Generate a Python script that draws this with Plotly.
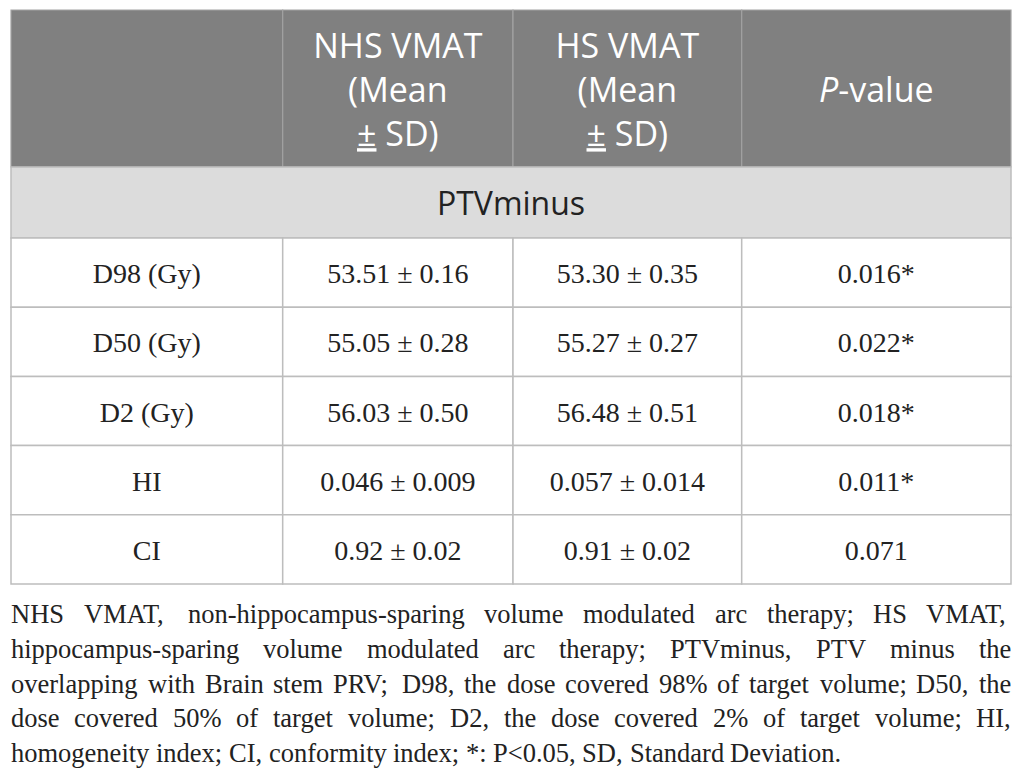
import plotly.graph_objects as go

# table content
col_headers = ["", "NHS VMAT<br>(Mean<br><u>±</u> SD)", "HS VMAT<br>(Mean<br><u>±</u> SD)", "<i>P</i>-value"]
group_label = "PTVminus"
parameters = ["D98 (Gy)", "D50 (Gy)", "D2 (Gy)", "HI", "CI"]
nhs_vmat = ["53.51 ± 0.16", "55.05 ± 0.28", "56.03 ± 0.50", "0.046 ± 0.009", "0.92 ± 0.02"]
hs_vmat = ["53.30 ± 0.35", "55.27 ± 0.27", "56.48 ± 0.51", "0.057 ± 0.014", "0.91 ± 0.02"]
p_values = ["0.016*", "0.022*", "0.018*", "0.011*", "0.071"]

footnote_lines = [
    "NHS VMAT, non-hippocampus-sparing volume modulated arc therapy; HS VMAT,",
    "hippocampus-sparing volume modulated arc therapy; PTVminus, PTV minus the",
    "overlapping with Brain stem PRV; D98, the dose covered 98% of target volume; D50, the",
    "dose covered 50% of target volume; D2, the dose covered 2% of target volume; HI,",
    "homogeneity index; CI, conformity index; *: P<0.05, SD, Standard Deviation.",
]

# page is drawn with an 8px body margin, so axes are set up in page pixels
W, H, PAGE_PAD = 1026, 779, 8
LEFT, RIGHT = 11, 1011
col_px = [271.7, 230.3, 228.7, 269.3]
header_top, header_bot, group_bot = 10, 167, 238
row_h = 69.2

head_fill, group_fill = "#808080", "#dcdcdc"
line_col, head_line = "#bdbdbd", "#a2a2a2"
text_col = "#222222"
sans = "Open Sans"
serif = "Liberation Serif"

col_edges = [LEFT]
for w in col_px:
    col_edges.append(col_edges[-1] + w)
col_mid = [(a + b) / 2 for a, b in zip(col_edges[:-1], col_edges[1:])]
row_edges = [group_bot + i * row_h for i in range(len(parameters) + 1)]
row_mid = [(a + b) / 2 for a, b in zip(row_edges[:-1], row_edges[1:])]

fig = go.Figure()

# cell backgrounds and borders
for a, b in zip(col_edges[:-1], col_edges[1:]):
    fig.add_shape(type="rect", x0=a, x1=b, y0=header_top, y1=header_bot, layer="below",
                  fillcolor=head_fill, line=dict(color=head_line, width=1.2))
fig.add_shape(type="rect", x0=LEFT, x1=RIGHT, y0=header_bot, y1=group_bot, layer="below",
              fillcolor=group_fill, line=dict(color=line_col, width=1.5))
for a, b in zip(col_edges[:-1], col_edges[1:]):
    for r0, r1 in zip(row_edges[:-1], row_edges[1:]):
        fig.add_shape(type="rect", x0=a, x1=b, y0=r0, y1=r1, layer="below",
                      fillcolor="white", line=dict(color=line_col, width=1.5))

# header text
fig.add_trace(go.Scatter(
    x=col_mid, y=[(header_top + header_bot) / 2 + 5] * 4, text=col_headers,
    mode="text", textposition="middle center", hoverinfo="skip",
    textfont=dict(family=sans, size=34, color="white")))

fig.add_trace(go.Scatter(
    x=[(LEFT + RIGHT) / 2], y=[(header_bot + group_bot) / 2 + 4.5], text=[group_label],
    mode="text", textposition="middle center", hoverinfo="skip",
    textfont=dict(family=sans, size=32, color=text_col)))

# body text, one trace per column
for xm, col in zip(col_mid, [parameters, nhs_vmat, hs_vmat, p_values]):
    fig.add_trace(go.Scatter(
        x=[xm] * len(col), y=[m + 3.5 for m in row_mid], text=col,
        mode="text", textposition="middle center", hoverinfo="skip",
        textfont=dict(family=serif, size=28, color=text_col)))

# justified footnote, word widths from Times metrics (Liberation Serif is metric compatible)
widths = {" ": 250, ",": 250, ".": 250, ";": 278, ":": 278, "-": 333, "%": 833,
          "*": 500, "<": 564, "(": 333, ")": 333}
widths.update({d: 500 for d in "0123456789"})
widths.update(dict(zip("ABCDEFGHIJKLMNOPQRSTUVWXYZ",
                       [722, 667, 667, 722, 611, 556, 722, 722, 333, 389, 722, 611, 889,
                        722, 722, 556, 722, 667, 556, 611, 722, 722, 944, 722, 722, 611])))
widths.update(dict(zip("abcdefghijklmnopqrstuvwxyz",
                       [444, 500, 444, 500, 444, 333, 500, 500, 278, 278, 500, 278, 778,
                        500, 500, 500, 500, 333, 389, 278, 500, 500, 722, 500, 500, 444])))

fs = 26.5
first_base, line_gap = 623, 34.8


def word_w(w):
    return sum(widths.get(ch, 500) for ch in w) * fs / 1000


for i, line in enumerate(footnote_lines):
    words = line.split(" ")
    if i == len(footnote_lines) - 1:
        gap = widths[" "] * fs / 1000
    else:
        gap = (RIGHT - LEFT - sum(word_w(w) for w in words)) / (len(words) - 1)
    x = LEFT
    yc = first_base + i * line_gap - 0.3375 * fs
    for w in words:
        fig.add_annotation(text=w, x=x, y=yc, xref="x", yref="y",
                           xanchor="left", yanchor="middle", showarrow=False,
                           borderpad=0, borderwidth=0,
                           font=dict(family=serif, size=fs, color=text_col))
        x += word_w(w) + gap

fig.update_layout(width=W - 2 * PAGE_PAD, height=H - 2 * PAGE_PAD,
                  margin=dict(l=0, r=0, t=0, b=0), showlegend=False,
                  paper_bgcolor="white", plot_bgcolor="white")
fig.update_xaxes(range=[PAGE_PAD, W - PAGE_PAD], visible=False)
fig.update_yaxes(range=[H - PAGE_PAD, PAGE_PAD], visible=False)

fig.write_html("out.html")
